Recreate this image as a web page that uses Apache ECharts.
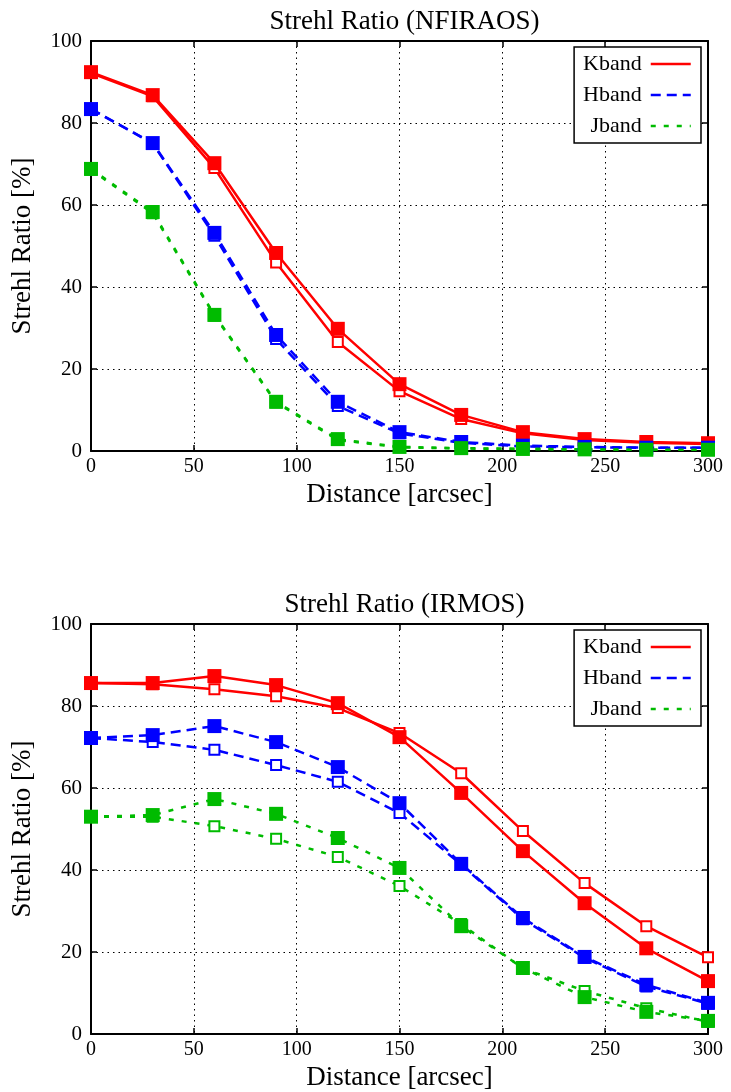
<!DOCTYPE html>
<html><head><meta charset="utf-8">
<script src="https://cdn.jsdelivr.net/npm/echarts@6/dist/echarts.min.js"></script>
<style>html,body{margin:0;padding:0;background:#fff}#c{width:731px;height:1092px}</style>
</head><body><div id="c"></div>
<script>
const distance = [0,30,60,90,120,150,180,210,240,270,300];
const xTicks = [0,50,100,150,200,250,300];
const yTicks = [0,20,40,60,80,100];
// NFIRAOS
const nfK_filled = [92.4,86.8,70.2,48.3,29.8,16.3,8.8,4.6,2.9,2.2,1.9];
const nfK_open   = [92.2,86.5,69.0,46.0,26.6,14.6,7.8,4.3,2.7,2.0,1.7];
const nfH_filled = [83.4,75.1,53.2,28.3,12.0,4.6,2.2,1.3,1.0,0.8,0.8];
const nfH_open   = [83.4,75.0,52.5,27.3,11.0,4.3,2.0,1.1,0.9,0.8,0.8];
const nfJ_filled = [68.8,58.3,33.2,12.0,2.9,1.0,0.7,0.5,0.4,0.3,0.3];
const nfJ_open   = [68.6,58.0,33.0,11.8,2.7,0.9,0.6,0.5,0.4,0.3,0.3];
// IRMOS
const irK_filled = [85.6,85.6,87.3,85.1,80.7,72.4,58.8,44.6,31.9,20.9,12.9];
const irK_open   = [85.6,85.3,84.1,82.4,79.5,73.4,63.6,49.5,36.8,26.3,18.7];
const irH_filled = [72.2,72.9,75.1,71.2,65.1,56.3,41.5,28.3,18.8,12.0,7.6];
const irH_open   = [72.2,71.2,69.3,65.6,61.5,53.9,41.3,28.0,18.6,11.6,7.4];
const irJ_filled = [53.0,53.4,57.3,53.7,47.8,40.5,26.3,16.1,9.0,5.4,3.2];
const irJ_open   = [53.0,53.0,50.7,47.6,43.2,36.1,26.8,16.0,10.5,6.3,3.0];

const SERIF = '"Liberation Serif","DejaVu Serif",serif';
const RED = '#ff0000', BLUE = '#0000ff', GREEN = '#00bb00';
const bands = [
  {name:'Kband', color:RED, dash:'solid'},
  {name:'Hband', color:BLUE, dash:[10,6]},
  {name:'Jband', color:GREEN, dash:[5,8]}
];
const panels = [
  {title:'Strehl Ratio (NFIRAOS)', top:41, data:[[nfK_filled,nfK_open],[nfH_filled,nfH_open],[nfJ_filled,nfJ_open]]},
  {title:'Strehl Ratio (IRMOS)', top:624, data:[[irK_filled,irK_open],[irH_filled,irH_open],[irJ_filled,irJ_open]]}
];
const grids=[], xAxes=[], yAxes=[], series=[], titles=[], legends=[];
panels.forEach((p,pi)=>{
  grids.push({left:91, width:617, top:p.top, height:410});
  titles.push({text:p.title, left:399.5, textAlign:'center', top:p.top-38,
    textStyle:{fontFamily:SERIF, fontSize:27, fontWeight:'normal', color:'#000'}});
  const axisLine = {show:true, onZero:false, lineStyle:{color:'#000', width:2}};
  const tick = {show:true, inside:true, length:6, lineStyle:{color:'#000', width:1.5}};
  const xi = xAxes.length;
  xAxes.push({type:'value', gridIndex:pi, min:0, max:300, interval:50, position:'bottom',
    axisLine, axisTick:tick, splitLine:{show:true, lineStyle:{color:'#000', type:[1.5,4], width:1}},
    axisLabel:{fontFamily:SERIF, fontSize:20, color:'#000', margin:6},
    name:'Distance [arcsec]', nameLocation:'middle', nameGap:30,
    nameTextStyle:{fontFamily:SERIF, fontSize:27, color:'#000'}});
  xAxes.push({type:'value', gridIndex:pi, min:0, max:300, interval:50, position:'top',
    axisLine, axisTick:tick, splitLine:{show:false}, axisLabel:{show:false}});
  const yi = yAxes.length;
  yAxes.push({type:'value', gridIndex:pi, min:0, max:100, interval:20, position:'left',
    axisLine, axisTick:tick, splitLine:{show:true, lineStyle:{color:'#000', type:[1.5,4], width:1}},
    axisLabel:{fontFamily:SERIF, fontSize:21, color:'#000', margin:9},
    name:'Strehl Ratio [%]', nameLocation:'middle', nameGap:55, nameRotate:90,
    nameTextStyle:{fontFamily:SERIF, fontSize:27, color:'#000'}});
  yAxes.push({type:'value', gridIndex:pi, min:0, max:100, interval:20, position:'right',
    axisLine, axisTick:tick, splitLine:{show:false}, axisLabel:{show:false}});
  bands.forEach((b,bi)=>{
    const [filled, open] = p.data[bi];
    series.push({type:'line', name:b.name, xAxisIndex:xi, yAxisIndex:yi,
      data:distance.map((d,i)=>[d,open[i]]), symbol:'rect', symbolSize:10,
      itemStyle:{color:'#fff', borderColor:b.color, borderWidth:2},
      lineStyle:{color:b.color, width:2.5, type:b.dash}, z:2, clip:false, animation:false});
    series.push({type:'line', name:b.name, xAxisIndex:xi, yAxisIndex:yi,
      data:distance.map((d,i)=>[d,filled[i]]), symbol:'rect', symbolSize:14,
      itemStyle:{color:b.color, borderWidth:0},
      lineStyle:{color:b.color, width:2.5, type:b.dash}, z:3, clip:false, animation:false});
  });
  legends.push({data:bands.map(b=>b.name), orient:'vertical', align:'right',
    right:731-701, top:p.top+6, padding:[6,9,6,9], itemGap:9, itemWidth:40, itemHeight:14,
    backgroundColor:'#fff', borderColor:'#000', borderWidth:1.5, borderRadius:0,
    itemStyle:{opacity:0}, lineStyle:{width:2.5},
    selectedMode:false,
    textStyle:{fontFamily:SERIF, fontSize:22, color:'#000', padding:[0,4,0,0]}});
});
const chart = echarts.init(document.getElementById('c'), null, {renderer:'canvas'});
chart.setOption({backgroundColor:'#fff', animation:false, title:titles, grid:grids,
  xAxis:xAxes, yAxis:yAxes, legend:legends, series:series});
</script></body></html>
